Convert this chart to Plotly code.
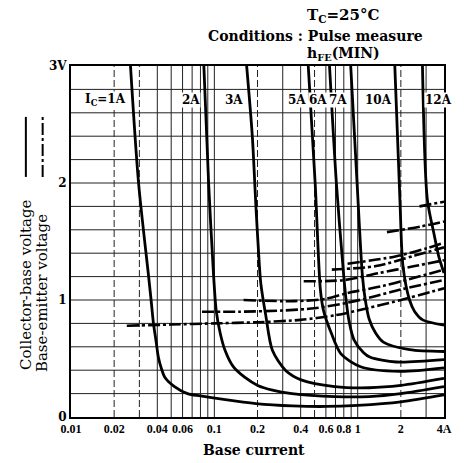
import plotly.graph_objects as go
import math

# ---------------- data ----------------
ic_labels = ["I<sub>C</sub>=1A", "2A", "3A", "5A", "6A", "7A", "10A", "12A"]
ic_label_ib = [0.0245, 0.081, 0.16, 0.44, 0.62, 0.86, 1.75, 2.9]
ic_label_anchor = ["right", "right", "right", "right", "right", "right", "right", "left"]
ic_label_v = 2.71

# Collector-base voltage (solid)
vcb_1a_ib = [0.026, 0.0296, 0.0348, 0.0362, 0.0376, 0.0392, 0.0407, 0.0428, 0.0451, 0.0527, 0.065, 0.08, 0.116, 0.195, 0.35, 0.6, 1.0, 2.0, 4.0]
vcb_1a_v = [3.0, 2.0, 1.2, 1.0, 0.8, 0.65, 0.51, 0.41, 0.34, 0.26, 0.2, 0.18, 0.15, 0.115, 0.095, 0.09, 0.1, 0.13, 0.19]
vcb_2a_ib = [0.0845, 0.0912, 0.0989, 0.103, 0.1097, 0.1187, 0.1355, 0.1626, 0.2007, 0.254, 0.348, 0.69, 1.2, 2.0, 4.0]
vcb_2a_v = [3.0, 2.0, 1.2, 0.91, 0.72, 0.57, 0.43, 0.34, 0.27, 0.23, 0.2, 0.175, 0.175, 0.2, 0.26]
vcb_3a_ib = [0.168, 0.184, 0.195, 0.206, 0.211, 0.229, 0.254, 0.313, 0.407, 0.69, 1.2, 2.0, 4.0]
vcb_3a_v = [3.0, 2.4, 1.8, 1.3, 1.14, 0.86, 0.57, 0.4, 0.315, 0.26, 0.25, 0.27, 0.33]
vcb_5a_ib = [0.452, 0.505, 0.55, 0.58, 0.653, 0.764, 1.047, 1.96, 4.0]
vcb_5a_v = [3.0, 2.0, 1.08, 0.9, 0.72, 0.54, 0.43, 0.39, 0.42]
vcb_6a_ib = [0.636, 0.71, 0.8, 0.83, 0.87, 0.942, 1.1, 1.225, 1.86, 4.0]
vcb_6a_v = [3.0, 2.0, 1.2, 1.0, 0.82, 0.66, 0.55, 0.51, 0.47, 0.49]
vcb_7a_ib = [0.894, 0.99, 1.08, 1.13, 1.2, 1.33, 1.51, 2.3, 4.0]
vcb_7a_v = [3.0, 2.0, 1.2, 1.0, 0.84, 0.72, 0.64, 0.575, 0.56]
vcb_10a_ib = [1.815, 1.97, 2.07, 2.3, 2.5, 2.84, 4.0]
vcb_10a_v = [3.0, 1.86, 1.29, 1.0, 0.9, 0.83, 0.785]
vcb_12a_ib = [2.83, 3.06, 3.4, 3.68, 4.0]
vcb_12a_v = [3.0, 1.86, 1.57, 1.37, 1.23]

# Base-emitter voltage (dash-dot)
vbe_1a_ib = [0.0245, 0.05, 0.1, 0.2, 0.4, 0.7, 1.0, 2.0, 4.0]
vbe_1a_v = [0.78, 0.79, 0.8, 0.81, 0.83, 0.87, 0.91, 1.0, 1.1]
vbe_2a_ib = [0.082, 0.15, 0.3, 0.5, 0.8, 1.3, 2.0, 4.0]
vbe_2a_v = [0.9, 0.9, 0.91, 0.93, 0.97, 1.03, 1.09, 1.17]
vbe_3a_ib = [0.16, 0.36, 0.6, 0.85, 1.5, 4.0]
vbe_3a_v = [1.0, 0.99, 1.01, 1.06, 1.12, 1.26]
vbe_5a_ib = [0.42, 0.8, 1.4, 2.5, 4.0]
vbe_5a_v = [1.16, 1.17, 1.23, 1.29, 1.34]
vbe_6a_ib = [0.66, 1.34, 2.5, 4.0]
vbe_6a_v = [1.26, 1.29, 1.38, 1.45]
vbe_7a_ib = [0.85, 1.8, 3.0, 4.0]
vbe_7a_v = [1.31, 1.37, 1.44, 1.49]
vbe_10a_ib = [1.6, 2.8, 4.0]
vbe_10a_v = [1.58, 1.63, 1.67]
vbe_12a_ib = [2.7, 4.0]
vbe_12a_v = [1.80, 1.84]

x_tick_vals = [0.01, 0.02, 0.04, 0.06, 0.1, 0.2, 0.4, 0.6, 0.8, 1, 2, 4]
x_tick_text = ["0.01", "0.02", "0.04", "0.06", "0.1", "0.2", "0.4", "0.6", "0.8", "1", "2", "4A"]
x_grid = [0.02, 0.03, 0.04, 0.05, 0.06, 0.07, 0.08, 0.09, 0.1, 0.2, 0.3, 0.4, 0.5, 0.6, 0.7, 0.8, 0.9, 1, 2, 3]
x_grid_dashed = [0.02, 0.03, 0.2, 0.5, 2]
y_tick_vals = [0, 1, 2, 3]
y_tick_text = ["0", "1", "2", "3V"]
y_grid = [0.2, 0.4, 0.6, 0.8, 1.0, 1.2, 1.4, 1.6, 1.8, 2.0, 2.2, 2.4, 2.6, 2.8]

# ---------------- figure ----------------
SERIF = "DejaVu Serif, Liberation Serif, serif"
NARROW = "Liberation Serif, DejaVu Serif, serif"
DASHDOT = "12px,3px,3px,3px"
fig = go.Figure()

vcb = [(vcb_1a_ib, vcb_1a_v), (vcb_2a_ib, vcb_2a_v), (vcb_3a_ib, vcb_3a_v),
       (vcb_5a_ib, vcb_5a_v), (vcb_6a_ib, vcb_6a_v), (vcb_7a_ib, vcb_7a_v),
       (vcb_10a_ib, vcb_10a_v), (vcb_12a_ib, vcb_12a_v)]
vbe = [(vbe_1a_ib, vbe_1a_v), (vbe_2a_ib, vbe_2a_v), (vbe_3a_ib, vbe_3a_v),
       (vbe_5a_ib, vbe_5a_v), (vbe_6a_ib, vbe_6a_v), (vbe_7a_ib, vbe_7a_v),
       (vbe_10a_ib, vbe_10a_v), (vbe_12a_ib, vbe_12a_v)]

for xs, ys in vbe:
    fig.add_trace(go.Scatter(x=xs, y=ys, mode="lines",
                             line=dict(color="black", width=2.6, dash=DASHDOT,
                                       shape="spline", smoothing=0.8),
                             showlegend=False, hoverinfo="skip"))
for xs, ys in vcb:
    fig.add_trace(go.Scatter(x=xs, y=ys, mode="lines",
                             line=dict(color="black", width=2.8, shape="spline", smoothing=0.8),
                             showlegend=False, hoverinfo="skip"))

shapes = []
for gx in x_grid:
    shapes.append(dict(type="line", xref="x", yref="paper", x0=gx, x1=gx, y0=0, y1=1,
                       line=dict(color="#222", width=1,
                                 dash="7px,3px" if gx in x_grid_dashed else "solid"),
                       layer="below"))
for gy in y_grid:
    shapes.append(dict(type="line", xref="paper", yref="y", x0=0, x1=1, y0=gy, y1=gy,
                       line=dict(color="#222", width=1), layer="below"))
# legend samples beside the rotated axis titles
shapes.append(dict(type="line", xref="paper", yref="paper", x0=-0.121, x1=-0.121,
                   y0=0.684, y1=0.855, line=dict(color="black", width=2)))
shapes.append(dict(type="line", xref="paper", yref="paper", x0=-0.076, x1=-0.076,
                   y0=0.684, y1=0.855, line=dict(color="black", width=2, dash=DASHDOT)))

annotations = []
for lab, lx, anc in zip(ic_labels, ic_label_ib, ic_label_anchor):
    annotations.append(dict(x=math.log10(lx), y=ic_label_v, xref="x", yref="y", text=lab,
                            showarrow=False, xanchor=anc, yanchor="middle",
                            bgcolor="white", borderpad=0,
                            font=dict(family=SERIF, size=12, color="black", weight="bold")))
annotations += [
    dict(x=0.627, y=1.145, xref="paper", yref="paper", text="T<sub>C</sub>=25°C",
         showarrow=False, xanchor="left", yanchor="middle",
         font=dict(family=SERIF, size=15, color="black", weight="bold")),
    dict(x=0.656, y=1.085, xref="paper", yref="paper", text="Conditions : Pulse measure",
         showarrow=False, xanchor="center", yanchor="middle",
         font=dict(family=SERIF, size=14, color="black", weight="bold")),
    dict(x=0.627, y=1.034, xref="paper", yref="paper", text="h<sub>FE</sub>(MIN)",
         showarrow=False, xanchor="left", yanchor="middle",
         font=dict(family=SERIF, size=14, color="black", weight="bold")),
    dict(x=0.491, y=-0.094, xref="paper", yref="paper", text="Base current",
         showarrow=False, xanchor="center", yanchor="middle",
         font=dict(family=SERIF, size=14, color="black", weight="bold")),
    dict(x=-0.121, y=0.376, xref="paper", yref="paper", text="Collector-base voltage",
         showarrow=False, textangle=-90, xanchor="center", yanchor="middle",
         font=dict(family=SERIF, size=15, color="black")),
    dict(x=-0.076, y=0.352, xref="paper", yref="paper", text="Base-emitter voltage",
         showarrow=False, textangle=-90, xanchor="center", yanchor="middle",
         font=dict(family=SERIF, size=15, color="black")),
]

fig.update_layout(
    width=464, height=463,
    margin=dict(l=71, r=12, t=66, b=46),
    paper_bgcolor="white", plot_bgcolor="white",
    shapes=shapes, annotations=annotations,
    xaxis=dict(type="log", range=[math.log10(0.01), math.log10(4)],
               tickvals=x_tick_vals, ticktext=x_tick_text, showgrid=False,
               showline=True, mirror=True, linecolor="black", linewidth=2,
               ticks="", zeroline=False, tickangle=0,
               tickfont=dict(family=NARROW, size=12, color="black", weight="bold")),
    yaxis=dict(range=[0, 3], tickvals=y_tick_vals, ticktext=y_tick_text, showgrid=False,
               showline=True, mirror=True, linecolor="black", linewidth=2,
               ticks="", zeroline=False,
               tickfont=dict(family=SERIF, size=12, color="black", weight="bold")),
)

fig.write_html("out.html", config={"displayModeBar": False},
               post_script="document.body.style.margin='0px';")
